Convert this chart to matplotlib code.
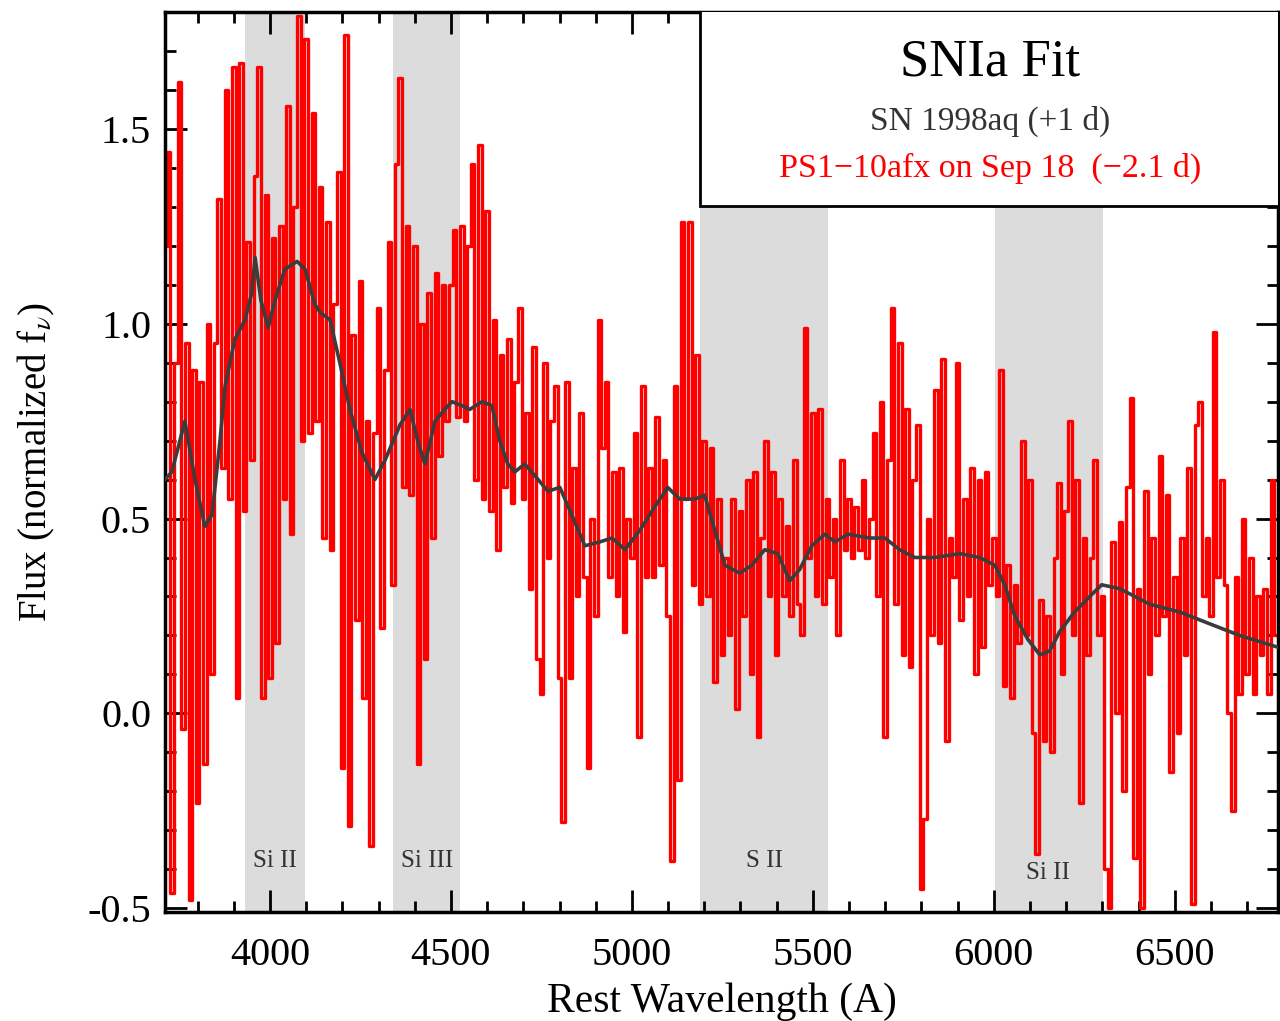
import numpy as np
import matplotlib
matplotlib.use("Agg")
import matplotlib.pyplot as plt
from matplotlib.patches import Rectangle
from matplotlib.ticker import MultipleLocator

plt.rcParams['font.family'] = ['Liberation Serif', 'DejaVu Serif']
plt.rcParams['mathtext.fontset'] = 'stix'

# ---- observed spectrum (PS1-10afx), 10 A sampling starting at 3710 A ----
wave_start = 3710
wave_step = 10
flux_obs = [
    1.20, 1.44, -0.46, 0.90, 1.62, -0.04, 0.95, -0.48, 0.88, -0.23,
    0.85, -0.13, 1.00, 0.10, 0.95, 1.32, 0.63, 1.60, 0.55, 1.66,
    0.04, 1.67, 0.52, 1.21, 0.65, 1.38, 1.66, 0.04, 1.33, 0.09,
    1.22, 0.18, 1.25, 0.55, 1.56, 0.46, 1.30, 1.79, 0.70, 1.73,
    0.72, 1.54, 0.75, 1.35, 0.45, 1.26, 0.42, 1.05, 1.39, -0.14,
    1.74, -0.29, 0.97, 0.24, 1.11, 0.04, 0.75, -0.34, 0.72, 1.04,
    0.22, 0.88, 1.21, 0.33, 1.41, 1.63, 0.58, 1.25, 0.56, 1.20,
    -0.13, 1.00, 0.14, 1.08, 0.45, 1.13, 0.66, 1.10, 0.75, 1.10,
    1.24, 0.76, 1.25, 0.75, 1.20, 1.41, 0.60, 1.46, 0.55, 1.29,
    0.52, 1.01, 0.42, 0.92, 0.58, 0.96, 0.54, 0.85, 1.04, 0.55,
    0.77, 0.32, 0.94, 0.14, 0.05, 0.90, 0.40, 0.75, 0.84, 0.09,
    -0.28, 0.85, 0.09, 0.63, 0.30, 0.77, 0.35, -0.14, 0.50, 0.25,
    1.01, 0.68, 0.85, 0.35, 0.62, 0.30, 0.63, 0.21, 0.50, 0.40,
    0.72, -0.06, 0.84, 0.35, 0.63, 0.35, 0.76, 0.38, 0.65, 0.25,
    -0.38, 0.84, -0.17, 1.26, 0.55, 1.26, 0.33, 0.92, 0.28, 0.70,
    0.30, 0.68, 0.08, 0.55, 0.15, 0.40, 0.20, 0.55, 0.01, 0.52,
    0.25, 0.60, 0.10, 0.62, -0.06, 0.45, 0.70, 0.30, 0.62, 0.15,
    0.55, 0.30, 0.48, 0.25, 0.65, 0.28, 0.20, 0.99, 0.40, 0.77,
    0.30, 0.78, 0.28, 0.55, 0.35, 0.50, 0.20, 0.65, 0.42, 0.55,
    0.40, 0.53, 0.42, 0.60, 0.40, 0.50, 0.72, 0.30, 0.80, -0.06,
    0.65, 1.04, 0.28, 0.95, 0.15, 0.78, 0.12, 0.60, 0.74, -0.45,
    -0.27, 0.50, 0.20, 0.83, 0.18, 0.91, -0.07, 0.45, 0.35, 0.90,
    0.24, 0.55, 0.30, 0.63, 0.10, 0.60, 0.17, 0.62, 0.33, 0.45,
    0.30, 0.88, 0.07, 0.38, 0.04, 0.33, 0.18, 0.70, 0.20, 0.60,
    -0.05, -0.36, 0.29, -0.07, 0.25, -0.10, 0.40, 0.59, 0.10, 0.52,
    0.75, 0.20, 0.60, -0.23, 0.45, 0.15, 0.40, 0.65, 0.20, 0.30,
    -0.40, -0.50, 0.44, 0.00, 0.49, -0.20, 0.58, 0.81, -0.37, 0.32,
    -0.50, 0.57, 0.10, 0.45, 0.20, 0.66, 0.25, 0.56, -0.15, 0.35,
    -0.05, 0.45, 0.15, 0.63, -0.49, 0.74, 0.80, 0.30, 0.45, 0.25,
    0.98, 0.35, 0.60, 0.33, 0.00, -0.25, 0.35, 0.05, 0.50, 0.10,
    0.40, 0.05, 0.30, 0.15, 0.32, 0.05, 0.60, 0.20,
]
wave_obs = wave_start + wave_step * np.arange(len(flux_obs))

# ---- template SN 1998aq (+1 d) ----
wave_tpl = [3710, 3729, 3765, 3793, 3820, 3840, 3862, 3876, 3903, 3931, 3950, 3959,
            3975, 3995, 4014, 4041, 4075, 4097, 4124, 4138, 4166, 4193, 4221, 4254,
            4290, 4318, 4359, 4387, 4408, 4428, 4456, 4483, 4503, 4530, 4552, 4586,
            4613, 4635, 4657, 4677, 4704, 4732, 4768, 4801, 4829, 4870, 4911, 4945,
            4981, 5022, 5063, 5099, 5132, 5174, 5201, 5229, 5257, 5298, 5331, 5367,
            5403, 5436, 5464, 5497, 5533, 5561, 5597, 5657, 5699, 5740, 5782, 5837,
            5906, 5961, 6003, 6030, 6058, 6094, 6127, 6154, 6182, 6223, 6265, 6298,
            6348, 6431, 6514, 6596, 6679, 6784]
flux_tpl = [0.60, 0.62, 0.75, 0.60, 0.48, 0.51, 0.70, 0.84, 0.96, 1.01, 1.08, 1.17,
            1.06, 0.99, 1.06, 1.14, 1.16, 1.14, 1.05, 1.03, 1.01, 0.90, 0.78, 0.67,
            0.60, 0.65, 0.74, 0.78, 0.70, 0.64, 0.75, 0.78, 0.80, 0.79, 0.78, 0.80,
            0.79, 0.70, 0.64, 0.62, 0.64, 0.61, 0.57, 0.58, 0.52, 0.43, 0.44, 0.45,
            0.42, 0.47, 0.53, 0.58, 0.55, 0.55, 0.56, 0.47, 0.38, 0.36, 0.38, 0.42,
            0.41, 0.34, 0.37, 0.43, 0.46, 0.44, 0.46, 0.45, 0.45, 0.42, 0.40, 0.40,
            0.41, 0.40, 0.38, 0.33, 0.25, 0.19, 0.15, 0.16, 0.21, 0.26, 0.30, 0.33,
            0.32, 0.28, 0.26, 0.23, 0.20, 0.17]

# ---- shaded line regions ----
band_lo = [3931, 4340, 5188, 6003]
band_hi = [4097, 4525, 5541, 6301]
band_names = ["Si II", "Si III", "S II", "Si II"]
band_label_x = [4014, 4434, 5365, 6149]
band_label_y = [-0.38, -0.38, -0.38, -0.41]

fig = plt.figure(figsize=(12.8, 10.21), dpi=100)
ax = fig.add_axes([0.1289, 0.1067, 0.8695, 0.8815])

for lo, hi in zip(band_lo, band_hi):
    ax.axvspan(lo, hi, color='#dcdcdc', lw=0, zorder=0)
for name, x, y in zip(band_names, band_label_x, band_label_y):
    ax.text(x, y, name, ha='center', va='center', fontsize=18, color='#333333', zorder=1)

ax.plot(wave_obs, flux_obs, color='#ff0000', lw=2.4, drawstyle='steps-mid', zorder=2)
ax.plot(wave_tpl, flux_tpl, color='#3c3c3c', lw=2.6, zorder=3)

ax.set_xlim(3710, 6785)
ax.set_ylim(-0.51, 1.8)
ax.xaxis.set_major_locator(MultipleLocator(500))
ax.xaxis.set_minor_locator(MultipleLocator(100))
ax.yaxis.set_major_locator(MultipleLocator(0.5))
ax.yaxis.set_minor_locator(MultipleLocator(0.1))
ax.yaxis.set_major_formatter(matplotlib.ticker.FormatStrFormatter('%.1f'))
ax.tick_params(which='both', direction='in', top=True, right=True, width=2, color='black')
ax.tick_params(which='major', length=16, labelsize=29)
ax.tick_params(axis='x', which='major', pad=18)
ax.tick_params(axis='y', which='major', pad=10)
ax.tick_params(which='minor', length=8)
for s in ax.spines.values():
    s.set_linewidth(2.5)

ax.set_xlabel("Rest Wavelength (A)", fontsize=30, labelpad=6)
ax.set_ylabel(r"Flux (normalized f$_\nu$)", fontsize=28, labelpad=22)

# legend box
box = Rectangle((0.4807, 0.7846), 0.52, 0.3, transform=ax.transAxes,
                facecolor='white', edgecolor='black', lw=2, zorder=5, clip_on=True)
ax.add_patch(box)
ax.text(0.741, 0.944, "SNIa Fit", transform=ax.transAxes, ha='center', va='center',
        fontsize=38, color='black', zorder=6)
ax.text(0.741, 0.879, "SN 1998aq (+1 d)", transform=ax.transAxes, ha='center', va='center',
        fontsize=24, color='#333333', zorder=6)
ax.text(0.741, 0.826, "PS1\u221210afx on Sep 18  (\u22122.1 d)", transform=ax.transAxes,
        ha='center', va='center', fontsize=24.5, color='#ff0000', zorder=6)

fig.savefig("out.png", dpi=100)
